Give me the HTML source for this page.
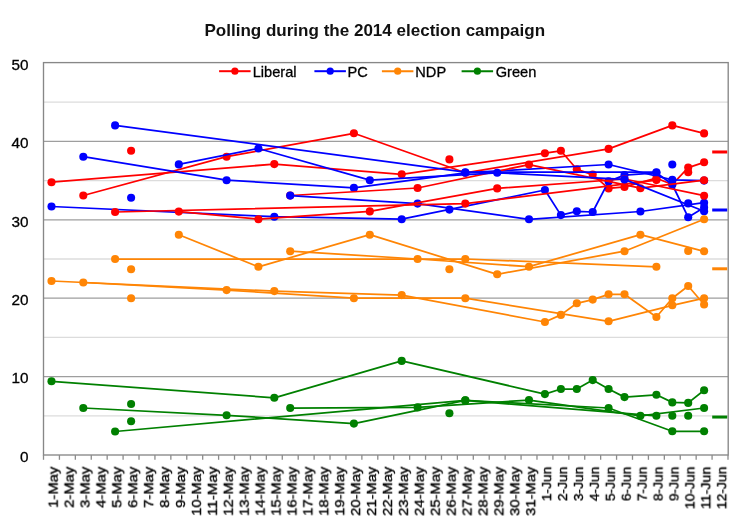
<!DOCTYPE html>
<html><head><meta charset="utf-8"><style>
html,body{margin:0;padding:0;background:#fff;}
svg{display:block;font-family:"Liberation Sans",sans-serif;-webkit-font-smoothing:antialiased;}
text{will-change:transform;}
</style></head><body>
<svg width="750" height="528" viewBox="0 0 750 528">
<rect x="0" y="0" width="750" height="528" fill="#fff"/>
<line x1="43.5" x2="728.0" y1="415.80" y2="415.80" stroke="#dcdcdc" stroke-width="1.3"/>
<line x1="43.5" x2="728.0" y1="337.40" y2="337.40" stroke="#dcdcdc" stroke-width="1.3"/>
<line x1="43.5" x2="728.0" y1="259.00" y2="259.00" stroke="#dcdcdc" stroke-width="1.3"/>
<line x1="43.5" x2="728.0" y1="180.60" y2="180.60" stroke="#dcdcdc" stroke-width="1.3"/>
<line x1="43.5" x2="728.0" y1="102.20" y2="102.20" stroke="#dcdcdc" stroke-width="1.3"/>
<line x1="43.5" x2="728.0" y1="376.60" y2="376.60" stroke="#9e9e9e" stroke-width="1.3"/>
<line x1="43.5" x2="728.0" y1="298.20" y2="298.20" stroke="#9e9e9e" stroke-width="1.3"/>
<line x1="43.5" x2="728.0" y1="219.80" y2="219.80" stroke="#9e9e9e" stroke-width="1.3"/>
<line x1="43.5" x2="728.0" y1="141.40" y2="141.40" stroke="#9e9e9e" stroke-width="1.3"/>
<rect x="43.5" y="62.6" width="684.7" height="392.4" fill="none" stroke="#878787" stroke-width="1.35"/>
<line x1="43.50" x2="43.50" y1="455" y2="459.8" stroke="#8c8c8c" stroke-width="1.3"/>
<line x1="59.42" x2="59.42" y1="455" y2="459.8" stroke="#8c8c8c" stroke-width="1.3"/>
<line x1="75.34" x2="75.34" y1="455" y2="459.8" stroke="#8c8c8c" stroke-width="1.3"/>
<line x1="91.26" x2="91.26" y1="455" y2="459.8" stroke="#8c8c8c" stroke-width="1.3"/>
<line x1="107.17" x2="107.17" y1="455" y2="459.8" stroke="#8c8c8c" stroke-width="1.3"/>
<line x1="123.09" x2="123.09" y1="455" y2="459.8" stroke="#8c8c8c" stroke-width="1.3"/>
<line x1="139.01" x2="139.01" y1="455" y2="459.8" stroke="#8c8c8c" stroke-width="1.3"/>
<line x1="154.93" x2="154.93" y1="455" y2="459.8" stroke="#8c8c8c" stroke-width="1.3"/>
<line x1="170.85" x2="170.85" y1="455" y2="459.8" stroke="#8c8c8c" stroke-width="1.3"/>
<line x1="186.77" x2="186.77" y1="455" y2="459.8" stroke="#8c8c8c" stroke-width="1.3"/>
<line x1="202.69" x2="202.69" y1="455" y2="459.8" stroke="#8c8c8c" stroke-width="1.3"/>
<line x1="218.60" x2="218.60" y1="455" y2="459.8" stroke="#8c8c8c" stroke-width="1.3"/>
<line x1="234.52" x2="234.52" y1="455" y2="459.8" stroke="#8c8c8c" stroke-width="1.3"/>
<line x1="250.44" x2="250.44" y1="455" y2="459.8" stroke="#8c8c8c" stroke-width="1.3"/>
<line x1="266.36" x2="266.36" y1="455" y2="459.8" stroke="#8c8c8c" stroke-width="1.3"/>
<line x1="282.28" x2="282.28" y1="455" y2="459.8" stroke="#8c8c8c" stroke-width="1.3"/>
<line x1="298.20" x2="298.20" y1="455" y2="459.8" stroke="#8c8c8c" stroke-width="1.3"/>
<line x1="314.12" x2="314.12" y1="455" y2="459.8" stroke="#8c8c8c" stroke-width="1.3"/>
<line x1="330.03" x2="330.03" y1="455" y2="459.8" stroke="#8c8c8c" stroke-width="1.3"/>
<line x1="345.95" x2="345.95" y1="455" y2="459.8" stroke="#8c8c8c" stroke-width="1.3"/>
<line x1="361.87" x2="361.87" y1="455" y2="459.8" stroke="#8c8c8c" stroke-width="1.3"/>
<line x1="377.79" x2="377.79" y1="455" y2="459.8" stroke="#8c8c8c" stroke-width="1.3"/>
<line x1="393.71" x2="393.71" y1="455" y2="459.8" stroke="#8c8c8c" stroke-width="1.3"/>
<line x1="409.63" x2="409.63" y1="455" y2="459.8" stroke="#8c8c8c" stroke-width="1.3"/>
<line x1="425.55" x2="425.55" y1="455" y2="459.8" stroke="#8c8c8c" stroke-width="1.3"/>
<line x1="441.47" x2="441.47" y1="455" y2="459.8" stroke="#8c8c8c" stroke-width="1.3"/>
<line x1="457.38" x2="457.38" y1="455" y2="459.8" stroke="#8c8c8c" stroke-width="1.3"/>
<line x1="473.30" x2="473.30" y1="455" y2="459.8" stroke="#8c8c8c" stroke-width="1.3"/>
<line x1="489.22" x2="489.22" y1="455" y2="459.8" stroke="#8c8c8c" stroke-width="1.3"/>
<line x1="505.14" x2="505.14" y1="455" y2="459.8" stroke="#8c8c8c" stroke-width="1.3"/>
<line x1="521.06" x2="521.06" y1="455" y2="459.8" stroke="#8c8c8c" stroke-width="1.3"/>
<line x1="536.98" x2="536.98" y1="455" y2="459.8" stroke="#8c8c8c" stroke-width="1.3"/>
<line x1="552.90" x2="552.90" y1="455" y2="459.8" stroke="#8c8c8c" stroke-width="1.3"/>
<line x1="568.81" x2="568.81" y1="455" y2="459.8" stroke="#8c8c8c" stroke-width="1.3"/>
<line x1="584.73" x2="584.73" y1="455" y2="459.8" stroke="#8c8c8c" stroke-width="1.3"/>
<line x1="600.65" x2="600.65" y1="455" y2="459.8" stroke="#8c8c8c" stroke-width="1.3"/>
<line x1="616.57" x2="616.57" y1="455" y2="459.8" stroke="#8c8c8c" stroke-width="1.3"/>
<line x1="632.49" x2="632.49" y1="455" y2="459.8" stroke="#8c8c8c" stroke-width="1.3"/>
<line x1="648.41" x2="648.41" y1="455" y2="459.8" stroke="#8c8c8c" stroke-width="1.3"/>
<line x1="664.33" x2="664.33" y1="455" y2="459.8" stroke="#8c8c8c" stroke-width="1.3"/>
<line x1="680.24" x2="680.24" y1="455" y2="459.8" stroke="#8c8c8c" stroke-width="1.3"/>
<line x1="696.16" x2="696.16" y1="455" y2="459.8" stroke="#8c8c8c" stroke-width="1.3"/>
<line x1="712.08" x2="712.08" y1="455" y2="459.8" stroke="#8c8c8c" stroke-width="1.3"/>
<line x1="728.00" x2="728.00" y1="455" y2="459.8" stroke="#8c8c8c" stroke-width="1.3"/>
<text x="28.4" y="461.7" font-size="15.3" text-anchor="end" fill="#000" stroke="#000" stroke-width="0.3">0</text>
<text x="28.4" y="383.3" font-size="15.3" text-anchor="end" fill="#000" stroke="#000" stroke-width="0.3">10</text>
<text x="28.4" y="304.9" font-size="15.3" text-anchor="end" fill="#000" stroke="#000" stroke-width="0.3">20</text>
<text x="28.4" y="226.5" font-size="15.3" text-anchor="end" fill="#000" stroke="#000" stroke-width="0.3">30</text>
<text x="28.4" y="148.1" font-size="15.3" text-anchor="end" fill="#000" stroke="#000" stroke-width="0.3">40</text>
<text x="28.4" y="69.7" font-size="15.3" text-anchor="end" fill="#000" stroke="#000" stroke-width="0.3">50</text>
<text transform="translate(57.66,466.6) rotate(-90)" x="0" y="0" font-size="13.4" text-anchor="end" textLength="41.21" lengthAdjust="spacingAndGlyphs" fill="#000" stroke="#000" stroke-width="0.35">1-May</text>
<text transform="translate(73.58,466.6) rotate(-90)" x="0" y="0" font-size="13.4" text-anchor="end" textLength="41.21" lengthAdjust="spacingAndGlyphs" fill="#000" stroke="#000" stroke-width="0.35">2-May</text>
<text transform="translate(89.50,466.6) rotate(-90)" x="0" y="0" font-size="13.4" text-anchor="end" textLength="41.21" lengthAdjust="spacingAndGlyphs" fill="#000" stroke="#000" stroke-width="0.35">3-May</text>
<text transform="translate(105.42,466.6) rotate(-90)" x="0" y="0" font-size="13.4" text-anchor="end" textLength="41.21" lengthAdjust="spacingAndGlyphs" fill="#000" stroke="#000" stroke-width="0.35">4-May</text>
<text transform="translate(121.33,466.6) rotate(-90)" x="0" y="0" font-size="13.4" text-anchor="end" textLength="41.21" lengthAdjust="spacingAndGlyphs" fill="#000" stroke="#000" stroke-width="0.35">5-May</text>
<text transform="translate(137.25,466.6) rotate(-90)" x="0" y="0" font-size="13.4" text-anchor="end" textLength="41.21" lengthAdjust="spacingAndGlyphs" fill="#000" stroke="#000" stroke-width="0.35">6-May</text>
<text transform="translate(153.17,466.6) rotate(-90)" x="0" y="0" font-size="13.4" text-anchor="end" textLength="41.21" lengthAdjust="spacingAndGlyphs" fill="#000" stroke="#000" stroke-width="0.35">7-May</text>
<text transform="translate(169.09,466.6) rotate(-90)" x="0" y="0" font-size="13.4" text-anchor="end" textLength="41.21" lengthAdjust="spacingAndGlyphs" fill="#000" stroke="#000" stroke-width="0.35">8-May</text>
<text transform="translate(185.01,466.6) rotate(-90)" x="0" y="0" font-size="13.4" text-anchor="end" textLength="41.21" lengthAdjust="spacingAndGlyphs" fill="#000" stroke="#000" stroke-width="0.35">9-May</text>
<text transform="translate(200.93,466.6) rotate(-90)" x="0" y="0" font-size="13.4" text-anchor="end" textLength="49.24" lengthAdjust="spacingAndGlyphs" fill="#000" stroke="#000" stroke-width="0.35">10-May</text>
<text transform="translate(216.85,466.6) rotate(-90)" x="0" y="0" font-size="13.4" text-anchor="end" textLength="49.24" lengthAdjust="spacingAndGlyphs" fill="#000" stroke="#000" stroke-width="0.35">11-May</text>
<text transform="translate(232.76,466.6) rotate(-90)" x="0" y="0" font-size="13.4" text-anchor="end" textLength="49.24" lengthAdjust="spacingAndGlyphs" fill="#000" stroke="#000" stroke-width="0.35">12-May</text>
<text transform="translate(248.68,466.6) rotate(-90)" x="0" y="0" font-size="13.4" text-anchor="end" textLength="49.24" lengthAdjust="spacingAndGlyphs" fill="#000" stroke="#000" stroke-width="0.35">13-May</text>
<text transform="translate(264.60,466.6) rotate(-90)" x="0" y="0" font-size="13.4" text-anchor="end" textLength="49.24" lengthAdjust="spacingAndGlyphs" fill="#000" stroke="#000" stroke-width="0.35">14-May</text>
<text transform="translate(280.52,466.6) rotate(-90)" x="0" y="0" font-size="13.4" text-anchor="end" textLength="49.24" lengthAdjust="spacingAndGlyphs" fill="#000" stroke="#000" stroke-width="0.35">15-May</text>
<text transform="translate(296.44,466.6) rotate(-90)" x="0" y="0" font-size="13.4" text-anchor="end" textLength="49.24" lengthAdjust="spacingAndGlyphs" fill="#000" stroke="#000" stroke-width="0.35">16-May</text>
<text transform="translate(312.36,466.6) rotate(-90)" x="0" y="0" font-size="13.4" text-anchor="end" textLength="49.24" lengthAdjust="spacingAndGlyphs" fill="#000" stroke="#000" stroke-width="0.35">17-May</text>
<text transform="translate(328.28,466.6) rotate(-90)" x="0" y="0" font-size="13.4" text-anchor="end" textLength="49.24" lengthAdjust="spacingAndGlyphs" fill="#000" stroke="#000" stroke-width="0.35">18-May</text>
<text transform="translate(344.19,466.6) rotate(-90)" x="0" y="0" font-size="13.4" text-anchor="end" textLength="49.24" lengthAdjust="spacingAndGlyphs" fill="#000" stroke="#000" stroke-width="0.35">19-May</text>
<text transform="translate(360.11,466.6) rotate(-90)" x="0" y="0" font-size="13.4" text-anchor="end" textLength="49.24" lengthAdjust="spacingAndGlyphs" fill="#000" stroke="#000" stroke-width="0.35">20-May</text>
<text transform="translate(376.03,466.6) rotate(-90)" x="0" y="0" font-size="13.4" text-anchor="end" textLength="49.24" lengthAdjust="spacingAndGlyphs" fill="#000" stroke="#000" stroke-width="0.35">21-May</text>
<text transform="translate(391.95,466.6) rotate(-90)" x="0" y="0" font-size="13.4" text-anchor="end" textLength="49.24" lengthAdjust="spacingAndGlyphs" fill="#000" stroke="#000" stroke-width="0.35">22-May</text>
<text transform="translate(407.87,466.6) rotate(-90)" x="0" y="0" font-size="13.4" text-anchor="end" textLength="49.24" lengthAdjust="spacingAndGlyphs" fill="#000" stroke="#000" stroke-width="0.35">23-May</text>
<text transform="translate(423.79,466.6) rotate(-90)" x="0" y="0" font-size="13.4" text-anchor="end" textLength="49.24" lengthAdjust="spacingAndGlyphs" fill="#000" stroke="#000" stroke-width="0.35">24-May</text>
<text transform="translate(439.71,466.6) rotate(-90)" x="0" y="0" font-size="13.4" text-anchor="end" textLength="49.24" lengthAdjust="spacingAndGlyphs" fill="#000" stroke="#000" stroke-width="0.35">25-May</text>
<text transform="translate(455.62,466.6) rotate(-90)" x="0" y="0" font-size="13.4" text-anchor="end" textLength="49.24" lengthAdjust="spacingAndGlyphs" fill="#000" stroke="#000" stroke-width="0.35">26-May</text>
<text transform="translate(471.54,466.6) rotate(-90)" x="0" y="0" font-size="13.4" text-anchor="end" textLength="49.24" lengthAdjust="spacingAndGlyphs" fill="#000" stroke="#000" stroke-width="0.35">27-May</text>
<text transform="translate(487.46,466.6) rotate(-90)" x="0" y="0" font-size="13.4" text-anchor="end" textLength="49.24" lengthAdjust="spacingAndGlyphs" fill="#000" stroke="#000" stroke-width="0.35">28-May</text>
<text transform="translate(503.38,466.6) rotate(-90)" x="0" y="0" font-size="13.4" text-anchor="end" textLength="49.24" lengthAdjust="spacingAndGlyphs" fill="#000" stroke="#000" stroke-width="0.35">29-May</text>
<text transform="translate(519.30,466.6) rotate(-90)" x="0" y="0" font-size="13.4" text-anchor="end" textLength="49.24" lengthAdjust="spacingAndGlyphs" fill="#000" stroke="#000" stroke-width="0.35">30-May</text>
<text transform="translate(535.22,466.6) rotate(-90)" x="0" y="0" font-size="13.4" text-anchor="end" textLength="49.24" lengthAdjust="spacingAndGlyphs" fill="#000" stroke="#000" stroke-width="0.35">31-May</text>
<text transform="translate(551.14,466.6) rotate(-90)" x="0" y="0" font-size="13.4" text-anchor="end" textLength="34.58" lengthAdjust="spacingAndGlyphs" fill="#000" stroke="#000" stroke-width="0.35">1-Jun</text>
<text transform="translate(567.05,466.6) rotate(-90)" x="0" y="0" font-size="13.4" text-anchor="end" textLength="34.58" lengthAdjust="spacingAndGlyphs" fill="#000" stroke="#000" stroke-width="0.35">2-Jun</text>
<text transform="translate(582.97,466.6) rotate(-90)" x="0" y="0" font-size="13.4" text-anchor="end" textLength="34.58" lengthAdjust="spacingAndGlyphs" fill="#000" stroke="#000" stroke-width="0.35">3-Jun</text>
<text transform="translate(598.89,466.6) rotate(-90)" x="0" y="0" font-size="13.4" text-anchor="end" textLength="34.58" lengthAdjust="spacingAndGlyphs" fill="#000" stroke="#000" stroke-width="0.35">4-Jun</text>
<text transform="translate(614.81,466.6) rotate(-90)" x="0" y="0" font-size="13.4" text-anchor="end" textLength="34.58" lengthAdjust="spacingAndGlyphs" fill="#000" stroke="#000" stroke-width="0.35">5-Jun</text>
<text transform="translate(630.73,466.6) rotate(-90)" x="0" y="0" font-size="13.4" text-anchor="end" textLength="34.58" lengthAdjust="spacingAndGlyphs" fill="#000" stroke="#000" stroke-width="0.35">6-Jun</text>
<text transform="translate(646.65,466.6) rotate(-90)" x="0" y="0" font-size="13.4" text-anchor="end" textLength="34.58" lengthAdjust="spacingAndGlyphs" fill="#000" stroke="#000" stroke-width="0.35">7-Jun</text>
<text transform="translate(662.57,466.6) rotate(-90)" x="0" y="0" font-size="13.4" text-anchor="end" textLength="34.58" lengthAdjust="spacingAndGlyphs" fill="#000" stroke="#000" stroke-width="0.35">8-Jun</text>
<text transform="translate(678.48,466.6) rotate(-90)" x="0" y="0" font-size="13.4" text-anchor="end" textLength="34.58" lengthAdjust="spacingAndGlyphs" fill="#000" stroke="#000" stroke-width="0.35">9-Jun</text>
<text transform="translate(694.40,466.6) rotate(-90)" x="0" y="0" font-size="13.4" text-anchor="end" textLength="42.61" lengthAdjust="spacingAndGlyphs" fill="#000" stroke="#000" stroke-width="0.35">10-Jun</text>
<text transform="translate(710.32,466.6) rotate(-90)" x="0" y="0" font-size="13.4" text-anchor="end" textLength="42.61" lengthAdjust="spacingAndGlyphs" fill="#000" stroke="#000" stroke-width="0.35">11-Jun</text>
<text transform="translate(726.24,466.6) rotate(-90)" x="0" y="0" font-size="13.4" text-anchor="end" textLength="42.61" lengthAdjust="spacingAndGlyphs" fill="#000" stroke="#000" stroke-width="0.35">12-Jun</text>
<text x="374.8" y="36.2" font-size="17.05" font-weight="bold" text-anchor="middle" fill="#111">Polling during the 2014 election campaign</text>
<line x1="219.1" x2="250.6" y1="71.2" y2="71.2" stroke="#ff0000" stroke-width="2"/>
<circle cx="234.9" cy="71.2" r="3.6" fill="#ff0000"/>
<text x="252.7" y="76.7" font-size="14.6" fill="#000" stroke="#000" stroke-width="0.3">Liberal</text>
<line x1="314.4" x2="345.9" y1="71.2" y2="71.2" stroke="#0000ff" stroke-width="2"/>
<circle cx="330.2" cy="71.2" r="3.6" fill="#0000ff"/>
<text x="347.5" y="76.7" font-size="14.6" fill="#000" stroke="#000" stroke-width="0.3">PC</text>
<line x1="381.9" x2="413.4" y1="71.2" y2="71.2" stroke="#ff8505" stroke-width="2"/>
<circle cx="397.7" cy="71.2" r="3.6" fill="#ff8505"/>
<text x="415.3" y="76.7" font-size="14.6" fill="#000" stroke="#000" stroke-width="0.3">NDP</text>
<line x1="461.6" x2="493.1" y1="71.2" y2="71.2" stroke="#008000" stroke-width="2"/>
<circle cx="477.4" cy="71.2" r="3.6" fill="#008000"/>
<text x="495.7" y="76.7" font-size="14.6" fill="#000" stroke="#000" stroke-width="0.3">Green</text>
<polyline points="51.5,182.2 274.3,164.1 401.7,174.3 544.9,153.2 560.9,150.8 576.8,169.3 592.7,174.6 608.6,188.4 624.5,186.9 656.4,178.2 672.3,184.5 688.2,167.6 704.1,162.3" fill="none" stroke="#ff0000" stroke-width="1.75" stroke-linejoin="round"/>
<circle cx="51.5" cy="182.2" r="4.05" fill="#ff0000"/>
<circle cx="274.3" cy="164.1" r="4.05" fill="#ff0000"/>
<circle cx="401.7" cy="174.3" r="4.05" fill="#ff0000"/>
<circle cx="544.9" cy="153.2" r="4.05" fill="#ff0000"/>
<circle cx="560.9" cy="150.8" r="4.05" fill="#ff0000"/>
<circle cx="576.8" cy="169.3" r="4.05" fill="#ff0000"/>
<circle cx="592.7" cy="174.6" r="4.05" fill="#ff0000"/>
<circle cx="608.6" cy="188.4" r="4.05" fill="#ff0000"/>
<circle cx="624.5" cy="186.9" r="4.05" fill="#ff0000"/>
<circle cx="656.4" cy="178.2" r="4.05" fill="#ff0000"/>
<circle cx="672.3" cy="184.5" r="4.05" fill="#ff0000"/>
<circle cx="688.2" cy="167.6" r="4.05" fill="#ff0000"/>
<circle cx="704.1" cy="162.3" r="4.05" fill="#ff0000"/>
<polyline points="51.5,206.5 274.3,216.7 401.7,219.2 544.9,190.0 560.9,215.1 576.8,211.3 592.7,212.0 608.6,181.4 624.5,175.1 656.4,172.8 672.3,184.5 688.2,217.3 704.1,207.4" fill="none" stroke="#0000ff" stroke-width="1.75" stroke-linejoin="round"/>
<circle cx="51.5" cy="206.5" r="4.05" fill="#0000ff"/>
<circle cx="274.3" cy="216.7" r="4.05" fill="#0000ff"/>
<circle cx="401.7" cy="219.2" r="4.05" fill="#0000ff"/>
<circle cx="544.9" cy="190.0" r="4.05" fill="#0000ff"/>
<circle cx="560.9" cy="215.1" r="4.05" fill="#0000ff"/>
<circle cx="576.8" cy="211.3" r="4.05" fill="#0000ff"/>
<circle cx="592.7" cy="212.0" r="4.05" fill="#0000ff"/>
<circle cx="608.6" cy="181.4" r="4.05" fill="#0000ff"/>
<circle cx="624.5" cy="175.1" r="4.05" fill="#0000ff"/>
<circle cx="656.4" cy="172.8" r="4.05" fill="#0000ff"/>
<circle cx="672.3" cy="184.5" r="4.05" fill="#0000ff"/>
<circle cx="688.2" cy="217.3" r="4.05" fill="#0000ff"/>
<circle cx="704.1" cy="207.4" r="4.05" fill="#0000ff"/>
<polyline points="51.5,281.0 274.3,291.1 401.7,295.1 544.9,322.0 560.9,314.9 576.8,303.3 592.7,299.6 608.6,294.3 624.5,294.3 656.4,317.0 672.3,298.2 688.2,286.0 704.1,304.5" fill="none" stroke="#ff8505" stroke-width="1.75" stroke-linejoin="round"/>
<circle cx="51.5" cy="281.0" r="4.05" fill="#ff8505"/>
<circle cx="274.3" cy="291.1" r="4.05" fill="#ff8505"/>
<circle cx="401.7" cy="295.1" r="4.05" fill="#ff8505"/>
<circle cx="544.9" cy="322.0" r="4.05" fill="#ff8505"/>
<circle cx="560.9" cy="314.9" r="4.05" fill="#ff8505"/>
<circle cx="576.8" cy="303.3" r="4.05" fill="#ff8505"/>
<circle cx="592.7" cy="299.6" r="4.05" fill="#ff8505"/>
<circle cx="608.6" cy="294.3" r="4.05" fill="#ff8505"/>
<circle cx="624.5" cy="294.3" r="4.05" fill="#ff8505"/>
<circle cx="656.4" cy="317.0" r="4.05" fill="#ff8505"/>
<circle cx="672.3" cy="298.2" r="4.05" fill="#ff8505"/>
<circle cx="688.2" cy="286.0" r="4.05" fill="#ff8505"/>
<circle cx="704.1" cy="304.5" r="4.05" fill="#ff8505"/>
<polyline points="51.5,381.3 274.3,397.8 401.7,360.9 544.9,394.1 560.9,389.0 576.8,389.0 592.7,380.1 608.6,389.0 624.5,397.1 656.4,394.8 672.3,402.4 688.2,402.9 704.1,390.3" fill="none" stroke="#008000" stroke-width="1.75" stroke-linejoin="round"/>
<circle cx="51.5" cy="381.3" r="4.05" fill="#008000"/>
<circle cx="274.3" cy="397.8" r="4.05" fill="#008000"/>
<circle cx="401.7" cy="360.9" r="4.05" fill="#008000"/>
<circle cx="544.9" cy="394.1" r="4.05" fill="#008000"/>
<circle cx="560.9" cy="389.0" r="4.05" fill="#008000"/>
<circle cx="576.8" cy="389.0" r="4.05" fill="#008000"/>
<circle cx="592.7" cy="380.1" r="4.05" fill="#008000"/>
<circle cx="608.6" cy="389.0" r="4.05" fill="#008000"/>
<circle cx="624.5" cy="397.1" r="4.05" fill="#008000"/>
<circle cx="656.4" cy="394.8" r="4.05" fill="#008000"/>
<circle cx="672.3" cy="402.4" r="4.05" fill="#008000"/>
<circle cx="688.2" cy="402.9" r="4.05" fill="#008000"/>
<circle cx="704.1" cy="390.3" r="4.05" fill="#008000"/>
<polyline points="83.3,195.5 226.6,156.7 353.9,133.3 465.3,172.8 608.6,148.9 672.3,125.4 704.1,133.4" fill="none" stroke="#ff0000" stroke-width="1.75" stroke-linejoin="round"/>
<circle cx="83.3" cy="195.5" r="4.05" fill="#ff0000"/>
<circle cx="226.6" cy="156.7" r="4.05" fill="#ff0000"/>
<circle cx="353.9" cy="133.3" r="4.05" fill="#ff0000"/>
<circle cx="465.3" cy="172.8" r="4.05" fill="#ff0000"/>
<circle cx="608.6" cy="148.9" r="4.05" fill="#ff0000"/>
<circle cx="672.3" cy="125.4" r="4.05" fill="#ff0000"/>
<circle cx="704.1" cy="133.4" r="4.05" fill="#ff0000"/>
<polyline points="83.3,156.7 226.6,180.2 353.9,187.9 465.3,172.8 608.6,164.5 672.3,179.9 704.1,180.6" fill="none" stroke="#0000ff" stroke-width="1.75" stroke-linejoin="round"/>
<circle cx="83.3" cy="156.7" r="4.05" fill="#0000ff"/>
<circle cx="226.6" cy="180.2" r="4.05" fill="#0000ff"/>
<circle cx="353.9" cy="187.9" r="4.05" fill="#0000ff"/>
<circle cx="465.3" cy="172.8" r="4.05" fill="#0000ff"/>
<circle cx="608.6" cy="164.5" r="4.05" fill="#0000ff"/>
<circle cx="672.3" cy="179.9" r="4.05" fill="#0000ff"/>
<circle cx="704.1" cy="180.6" r="4.05" fill="#0000ff"/>
<polyline points="83.3,282.5 226.6,290.1 353.9,298.2 465.3,298.2 608.6,321.3 672.3,305.3 704.1,298.2" fill="none" stroke="#ff8505" stroke-width="1.75" stroke-linejoin="round"/>
<circle cx="83.3" cy="282.5" r="4.05" fill="#ff8505"/>
<circle cx="226.6" cy="290.1" r="4.05" fill="#ff8505"/>
<circle cx="353.9" cy="298.2" r="4.05" fill="#ff8505"/>
<circle cx="465.3" cy="298.2" r="4.05" fill="#ff8505"/>
<circle cx="608.6" cy="321.3" r="4.05" fill="#ff8505"/>
<circle cx="672.3" cy="305.3" r="4.05" fill="#ff8505"/>
<circle cx="704.1" cy="298.2" r="4.05" fill="#ff8505"/>
<polyline points="83.3,408.0 226.6,415.3 353.9,423.6 465.3,400.4 608.6,408.0 672.3,431.3 704.1,431.3" fill="none" stroke="#008000" stroke-width="1.75" stroke-linejoin="round"/>
<circle cx="83.3" cy="408.0" r="4.05" fill="#008000"/>
<circle cx="226.6" cy="415.3" r="4.05" fill="#008000"/>
<circle cx="353.9" cy="423.6" r="4.05" fill="#008000"/>
<circle cx="465.3" cy="400.4" r="4.05" fill="#008000"/>
<circle cx="608.6" cy="408.0" r="4.05" fill="#008000"/>
<circle cx="672.3" cy="431.3" r="4.05" fill="#008000"/>
<circle cx="704.1" cy="431.3" r="4.05" fill="#008000"/>
<polyline points="290.2,195.5 417.6,188.0 529.0,164.6 640.4,188.2 704.1,180.2" fill="none" stroke="#ff0000" stroke-width="1.75" stroke-linejoin="round"/>
<circle cx="290.2" cy="195.5" r="4.05" fill="#ff0000"/>
<circle cx="417.6" cy="188.0" r="4.05" fill="#ff0000"/>
<circle cx="529.0" cy="164.6" r="4.05" fill="#ff0000"/>
<circle cx="640.4" cy="188.2" r="4.05" fill="#ff0000"/>
<circle cx="704.1" cy="180.2" r="4.05" fill="#ff0000"/>
<polyline points="290.2,195.6 417.6,203.6 529.0,219.3 640.4,211.5 704.1,202.7" fill="none" stroke="#0000ff" stroke-width="1.75" stroke-linejoin="round"/>
<circle cx="290.2" cy="195.6" r="4.05" fill="#0000ff"/>
<circle cx="417.6" cy="203.6" r="4.05" fill="#0000ff"/>
<circle cx="529.0" cy="219.3" r="4.05" fill="#0000ff"/>
<circle cx="640.4" cy="211.5" r="4.05" fill="#0000ff"/>
<circle cx="704.1" cy="202.7" r="4.05" fill="#0000ff"/>
<polyline points="290.2,251.2 417.6,259.0 529.0,266.7 640.4,234.7 704.1,251.3" fill="none" stroke="#ff8505" stroke-width="1.75" stroke-linejoin="round"/>
<circle cx="290.2" cy="251.2" r="4.05" fill="#ff8505"/>
<circle cx="417.6" cy="259.0" r="4.05" fill="#ff8505"/>
<circle cx="529.0" cy="266.7" r="4.05" fill="#ff8505"/>
<circle cx="640.4" cy="234.7" r="4.05" fill="#ff8505"/>
<circle cx="704.1" cy="251.3" r="4.05" fill="#ff8505"/>
<polyline points="290.2,408.0 417.6,407.4 529.0,400.1 640.4,415.8 704.1,408.0" fill="none" stroke="#008000" stroke-width="1.75" stroke-linejoin="round"/>
<circle cx="290.2" cy="408.0" r="4.05" fill="#008000"/>
<circle cx="417.6" cy="407.4" r="4.05" fill="#008000"/>
<circle cx="529.0" cy="400.1" r="4.05" fill="#008000"/>
<circle cx="640.4" cy="415.8" r="4.05" fill="#008000"/>
<circle cx="704.1" cy="408.0" r="4.05" fill="#008000"/>
<polyline points="115.1,212.0 465.3,203.6 656.4,180.1" fill="none" stroke="#ff0000" stroke-width="1.75" stroke-linejoin="round"/>
<circle cx="115.1" cy="212.0" r="4.05" fill="#ff0000"/>
<circle cx="465.3" cy="203.6" r="4.05" fill="#ff0000"/>
<circle cx="656.4" cy="180.1" r="4.05" fill="#ff0000"/>
<polyline points="115.1,125.4 465.3,172.2 656.4,172.2" fill="none" stroke="#0000ff" stroke-width="1.75" stroke-linejoin="round"/>
<circle cx="115.1" cy="125.4" r="4.05" fill="#0000ff"/>
<circle cx="465.3" cy="172.2" r="4.05" fill="#0000ff"/>
<circle cx="656.4" cy="172.2" r="4.05" fill="#0000ff"/>
<polyline points="115.1,259.0 465.3,259.0 656.4,266.8" fill="none" stroke="#ff8505" stroke-width="1.75" stroke-linejoin="round"/>
<circle cx="115.1" cy="259.0" r="4.05" fill="#ff8505"/>
<circle cx="465.3" cy="259.0" r="4.05" fill="#ff8505"/>
<circle cx="656.4" cy="266.8" r="4.05" fill="#ff8505"/>
<polyline points="115.1,431.5 465.3,400.4 656.4,415.8" fill="none" stroke="#008000" stroke-width="1.75" stroke-linejoin="round"/>
<circle cx="115.1" cy="431.5" r="4.05" fill="#008000"/>
<circle cx="465.3" cy="400.4" r="4.05" fill="#008000"/>
<circle cx="656.4" cy="415.8" r="4.05" fill="#008000"/>
<polyline points="178.8,211.6 258.4,219.2 369.8,211.4 497.2,188.4 624.5,179.0 704.1,195.7" fill="none" stroke="#ff0000" stroke-width="1.75" stroke-linejoin="round"/>
<circle cx="178.8" cy="211.6" r="4.05" fill="#ff0000"/>
<circle cx="258.4" cy="219.2" r="4.05" fill="#ff0000"/>
<circle cx="369.8" cy="211.4" r="4.05" fill="#ff0000"/>
<circle cx="497.2" cy="188.4" r="4.05" fill="#ff0000"/>
<circle cx="624.5" cy="179.0" r="4.05" fill="#ff0000"/>
<circle cx="704.1" cy="195.7" r="4.05" fill="#ff0000"/>
<polyline points="178.8,164.4 258.4,148.5 369.8,180.2 497.2,172.8 624.5,179.4 704.1,211.3" fill="none" stroke="#0000ff" stroke-width="1.75" stroke-linejoin="round"/>
<circle cx="178.8" cy="164.4" r="4.05" fill="#0000ff"/>
<circle cx="258.4" cy="148.5" r="4.05" fill="#0000ff"/>
<circle cx="369.8" cy="180.2" r="4.05" fill="#0000ff"/>
<circle cx="497.2" cy="172.8" r="4.05" fill="#0000ff"/>
<circle cx="624.5" cy="179.4" r="4.05" fill="#0000ff"/>
<circle cx="704.1" cy="211.3" r="4.05" fill="#0000ff"/>
<polyline points="178.8,234.7 258.4,266.8 369.8,234.7 497.2,274.3 624.5,251.2 704.1,219.3" fill="none" stroke="#ff8505" stroke-width="1.75" stroke-linejoin="round"/>
<circle cx="178.8" cy="234.7" r="4.05" fill="#ff8505"/>
<circle cx="258.4" cy="266.8" r="4.05" fill="#ff8505"/>
<circle cx="369.8" cy="234.7" r="4.05" fill="#ff8505"/>
<circle cx="497.2" cy="274.3" r="4.05" fill="#ff8505"/>
<circle cx="624.5" cy="251.2" r="4.05" fill="#ff8505"/>
<circle cx="704.1" cy="219.3" r="4.05" fill="#ff8505"/>
<circle cx="131.1" cy="150.8" r="4.05" fill="#ff0000"/>
<circle cx="131.1" cy="197.8" r="4.05" fill="#0000ff"/>
<circle cx="131.1" cy="269.2" r="4.05" fill="#ff8505"/>
<circle cx="131.1" cy="404.0" r="4.05" fill="#008000"/>
<circle cx="131.1" cy="298.2" r="4.05" fill="#ff8505"/>
<circle cx="131.1" cy="421.3" r="4.05" fill="#008000"/>
<circle cx="449.4" cy="159.4" r="4.05" fill="#ff0000"/>
<circle cx="449.4" cy="209.6" r="4.05" fill="#0000ff"/>
<circle cx="449.4" cy="269.2" r="4.05" fill="#ff8505"/>
<circle cx="449.4" cy="413.2" r="4.05" fill="#008000"/>
<circle cx="672.3" cy="164.5" r="4.05" fill="#0000ff"/>
<circle cx="672.3" cy="415.8" r="4.05" fill="#008000"/>
<circle cx="688.2" cy="172.2" r="4.05" fill="#ff0000"/>
<circle cx="688.2" cy="203.4" r="4.05" fill="#0000ff"/>
<circle cx="688.2" cy="250.9" r="4.05" fill="#ff8505"/>
<circle cx="688.2" cy="415.8" r="4.05" fill="#008000"/>
<line x1="712.2" x2="727.2" y1="151.98" y2="151.98" stroke="#ff0000" stroke-width="3"/>
<line x1="712.2" x2="727.2" y1="210.00" y2="210.00" stroke="#0000ff" stroke-width="3"/>
<line x1="712.2" x2="727.2" y1="268.80" y2="268.80" stroke="#ff8505" stroke-width="3"/>
<line x1="712.2" x2="727.2" y1="417.05" y2="417.05" stroke="#008000" stroke-width="3"/>
</svg>
</body></html>
